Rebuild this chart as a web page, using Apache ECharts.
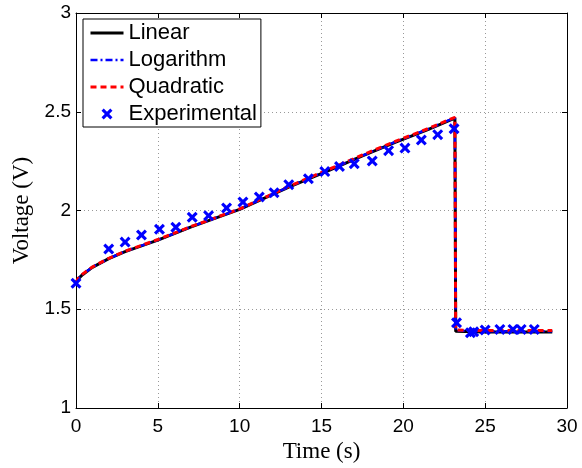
<!DOCTYPE html>
<html>
<head>
<meta charset="utf-8">
<script src="https://cdn.jsdelivr.net/npm/echarts@6/dist/echarts.min.js"></script>
<style>
html,body{margin:0;padding:0;background:#fff;}
#chart{width:582px;height:468px;}
</style>
</head>
<body>
<div id="chart"></div>
<script>
// ---- data ----
var seriesNames = ['Linear', 'Logarithm', 'Quadratic', 'Experimental'];
var xTicks = [0, 5, 10, 15, 20, 25, 30];
var yTicks = [1, 1.5, 2, 2.5, 3];

var modelTime = [0, 0.15, 0.4, 1.0, 2.0, 3.0, 5.0, 7.0, 10.0, 13.0, 15.5, 17.5, 19.5, 21.5, 23.15, 23.2, 23.3, 25.0, 27.0, 29.1];
var linearV   = [1.635, 1.655, 1.675, 1.712, 1.756, 1.792, 1.850, 1.916, 2.006, 2.118, 2.205, 2.277, 2.345, 2.410, 2.468, 1.388, 1.385, 1.385, 1.385, 1.385];
var logV      = [1.635, 1.657, 1.677, 1.713, 1.757, 1.793, 1.851, 1.917, 2.007, 2.120, 2.207, 2.278, 2.347, 2.412, 2.470, 1.392, 1.389, 1.389, 1.389, 1.389];
var quadV     = [1.635, 1.658, 1.678, 1.714, 1.758, 1.794, 1.853, 1.918, 2.008, 2.122, 2.210, 2.281, 2.350, 2.414, 2.472, 1.395, 1.392, 1.392, 1.392, 1.392];

var expTime = [0, 2.0, 3.0, 4.0, 5.1, 6.1, 7.1, 8.1, 9.2, 10.2, 11.2, 12.1, 13.0, 14.2, 15.2, 16.1, 17.0, 18.1, 19.1, 20.1, 21.1, 22.1, 23.1, 23.25, 24.1, 24.3, 25.0, 25.9, 26.7, 27.2, 28.0];
var expV    = [1.632, 1.805, 1.840, 1.876, 1.905, 1.915, 1.966, 1.974, 2.013, 2.043, 2.068, 2.090, 2.131, 2.161, 2.197, 2.223, 2.237, 2.251, 2.303, 2.316, 2.357, 2.384, 2.414, 1.432, 1.381, 1.386, 1.395, 1.398, 1.398, 1.398, 1.398];

function pairs(xs, ys) { return xs.map(function (x, i) { return [x, ys[i]]; }); }

var sansFont = '"Liberation Sans", Arial, Helvetica, sans-serif';
var serifFont = '"Liberation Serif", "DejaVu Serif", serif';
var xMark = 'path://M0,2L2,0L5,3L8,0L10,2L7,5L10,8L8,10L5,7L2,10L0,8L3,5Z';

var chart = echarts.init(document.getElementById('chart'), null, {renderer: 'canvas'});

var baseX = {
  type: 'value', min: xTicks[0], max: xTicks[xTicks.length - 1], interval: 5,
  axisLine: {show: true, onZero: false, lineStyle: {color: '#000', width: 1}},
  axisTick: {show: true, inside: true, length: 5, lineStyle: {color: '#000'}}
};
var baseY = {
  type: 'value', min: yTicks[0], max: yTicks[yTicks.length - 1], interval: 0.5,
  axisLine: {show: true, onZero: false, lineStyle: {color: '#000', width: 1}},
  axisTick: {show: true, inside: true, length: 5, lineStyle: {color: '#000'}}
};

chart.setOption({
  animation: false,
  backgroundColor: '#fff',
  grid: {left: 76, right: 15, top: 13, bottom: 60, containLabel: false, outerBoundsMode: 'none'},
  legend: {
    orient: 'vertical', left: 83, top: 19,
    backgroundColor: '#fff', borderColor: '#000', borderWidth: 1, borderRadius: 0,
    padding: [3, 4, 2, 6], itemGap: 5, itemWidth: 33, itemHeight: 11,
    textStyle: {fontSize: 22, fontFamily: sansFont, color: '#000'},
    data: [
      {name: seriesNames[0], itemStyle: {opacity: 0}, lineStyle: {width: 3, color: '#000', type: 'solid'}},
      {name: seriesNames[1], itemStyle: {opacity: 0}, lineStyle: {width: 2.5, color: '#0000ff', type: [7, 3, 2, 3]}},
      {name: seriesNames[2], itemStyle: {opacity: 0}, lineStyle: {width: 3, color: '#ff0000', type: [6, 4]}},
      {name: seriesNames[3]}
    ]
  },
  xAxis: [
    Object.assign({}, baseX, {
      position: 'bottom',
      name: 'Time (s)', nameLocation: 'middle', nameGap: 28,
      nameTextStyle: {fontSize: 23, fontFamily: serifFont, color: '#000'},
      axisLabel: {show: true, margin: 9, fontSize: 19, fontFamily: sansFont, color: '#000'},
      splitLine: {show: true, lineStyle: {color: '#999', type: [1, 3], width: 1}}
    }),
    Object.assign({}, baseX, {
      position: 'top',
      axisLabel: {show: false}, splitLine: {show: false}
    })
  ],
  yAxis: [
    Object.assign({}, baseY, {
      position: 'left',
      name: 'Voltage (V)', nameLocation: 'middle', nameGap: 36,
      nameTextStyle: {fontSize: 23, fontFamily: serifFont, color: '#000'},
      axisLabel: {show: true, margin: 5, fontSize: 19, fontFamily: sansFont, color: '#000'},
      splitLine: {show: true, lineStyle: {color: '#999', type: [1, 3], width: 1}}
    }),
    Object.assign({}, baseY, {
      position: 'right',
      axisLabel: {show: false}, splitLine: {show: false}
    })
  ],
  series: [
    {
      name: seriesNames[0], type: 'line', xAxisIndex: 0, yAxisIndex: 0,
      data: pairs(modelTime, linearV), showSymbol: false, symbol: 'none',
      itemStyle: {color: '#000'},
      lineStyle: {color: '#000', width: 3, type: 'solid'}, z: 2
    },
    {
      name: seriesNames[1], type: 'line', xAxisIndex: 0, yAxisIndex: 0,
      data: pairs(modelTime, logV), showSymbol: false, symbol: 'none',
      itemStyle: {color: '#0000ff'},
      lineStyle: {color: '#0000ff', width: 2.5, type: [7, 3, 2, 3]}, z: 3
    },
    {
      name: seriesNames[2], type: 'line', xAxisIndex: 0, yAxisIndex: 0,
      data: pairs(modelTime, quadV), showSymbol: false, symbol: 'none',
      itemStyle: {color: '#ff0000'},
      lineStyle: {color: '#ff0000', width: 3, type: [6, 4]}, z: 4
    },
    {
      name: seriesNames[3], type: 'scatter', xAxisIndex: 0, yAxisIndex: 0,
      data: pairs(expTime, expV), symbol: xMark, symbolSize: 11,
      itemStyle: {color: '#0000ff', opacity: 1}, z: 5
    }
  ]
});
</script>
</body>
</html>
